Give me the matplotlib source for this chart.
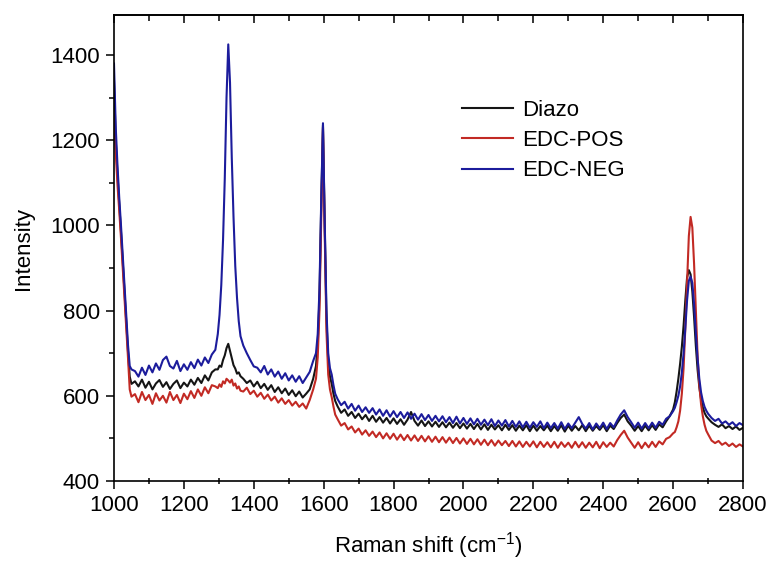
import numpy as np
import matplotlib
matplotlib.use("Agg")
import matplotlib.pyplot as plt

plt.rcParams["font.family"] = ["Liberation Sans", "DejaVu Sans"]
plt.rcParams["mathtext.fontset"] = "custom"
plt.rcParams["mathtext.rm"] = "Liberation Sans"
plt.rcParams["mathtext.default"] = "regular"

# Raman shift sampling (cm^-1): finer steps across the D, G and 2D bands
wavenumber = np.concatenate([
    np.arange(1000, 1051, 5),
    np.arange(1060, 1291, 10),
    np.arange(1297, 1363, 5),
    np.arange(1370, 1571, 10),
    np.arange(1578, 1634, 5),
    np.arange(1640, 2601, 10),
    np.arange(2605, 2701, 5),
    np.arange(2710, 2801, 10),
])

diazo = [
    1340, 1200, 1120, 1050, 985, 915, 845, 775, 705, 645, 628,
    634, 622, 638, 619, 633, 615, 629, 637, 621, 632, 616, 628,
    636, 618, 631, 622, 638, 626, 642, 630, 648, 636, 655, 662,
    662, 671, 668, 684, 695, 712, 722, 705, 688, 672, 664, 652, 655, 646,
    640, 630, 636, 622, 633, 618, 628, 614, 625, 609, 620, 606, 617, 602,
    613, 599, 610, 596, 605, 615, 640,
    670, 720, 830, 1050, 1235, 1000, 780, 680, 645, 628, 605, 588,
    575, 560, 568, 553, 562, 548, 558, 545, 555, 541,
    553, 539, 550, 537, 548, 535, 547, 534, 545, 532,
    544, 562, 541, 530, 542, 529, 540, 528, 539, 527,
    538, 526, 537, 525, 536, 524, 535, 523, 534, 522,
    534, 521, 533, 520, 532, 521, 531, 519, 532, 520,
    531, 518, 530, 519, 531, 517, 530, 518, 529, 519,
    530, 517, 529, 518, 531, 516, 530, 518, 529, 519,
    531, 517, 530, 518, 529, 520, 531, 517, 530, 522,
    536, 548, 556, 540, 530, 518, 529, 517, 530, 519,
    531, 520, 533, 526, 540, 552, 568,
    585, 610, 640, 675, 715, 765, 825, 878, 895, 885,
    845, 785, 718, 662, 620, 592, 573, 560, 552, 547,
    538, 532, 527, 533, 524, 529, 522, 528, 520, 525,
]

edc_pos = [
    1265, 1170, 1095, 1035, 970, 900, 830, 760, 690, 615, 598,
    604, 585, 609, 590, 602, 581, 606, 589, 600, 584, 609, 590,
    602, 583, 605, 592, 611, 595, 615, 600, 620, 606, 625, 622,
    618, 627, 621, 634, 629, 640, 636, 631, 638, 624, 629, 617, 622, 612,
    610, 619, 604, 612, 598, 607, 593, 603, 589, 598, 584, 594, 581, 590,
    577, 586, 574, 582, 570, 590, 615,
    640, 690, 800, 1020, 1230, 980, 750, 650, 615, 597, 575, 556,
    545, 530, 536, 521, 528, 514, 523, 509, 519, 506,
    516, 503, 514, 500, 512, 499, 511, 497, 509, 496,
    508, 495, 507, 494, 506, 493, 505, 492, 504, 491,
    503, 490, 502, 489, 501, 488, 500, 487, 499, 486,
    498, 485, 497, 484, 496, 483, 495, 484, 494, 482,
    494, 481, 493, 480, 492, 481, 493, 479, 492, 480,
    491, 479, 492, 478, 491, 480, 490, 478, 492, 479,
    491, 478, 490, 479, 492, 477, 491, 480, 490, 481,
    496, 508, 518, 502, 490, 478, 491, 477, 490, 479,
    492, 480, 493, 486, 499, 503, 512,
    515, 526, 540, 565, 605, 665, 760, 870, 975, 1020,
    995, 910, 800, 695, 625, 580, 552, 532, 518, 510,
    495, 489, 494, 485, 490, 482, 488, 480, 486, 481,
]

edc_neg = [
    1380, 1230, 1140, 1065, 1000, 930, 860, 790, 720, 670, 662,
    658, 645, 666, 649, 671, 655, 676, 661, 684, 692, 670, 664,
    682, 658, 674, 661, 679, 665, 685, 671, 690, 677, 697, 708,
    745, 790, 860, 965, 1110, 1300, 1425, 1335, 1160, 1020, 905, 830, 775, 740,
    718, 700, 684, 669, 666, 655, 670, 650, 662, 645, 657, 640, 653, 636,
    648, 633, 646, 630, 643, 656, 682,
    700, 745, 850, 1060, 1240, 1010, 800, 700, 665, 650, 625, 605,
    592, 578, 586, 570, 581, 565, 577, 562, 573, 560,
    571, 556, 568, 553, 566, 551, 564, 550, 562, 548,
    561, 546, 558, 544, 557, 543, 555, 541, 553, 540,
    552, 538, 550, 536, 551, 535, 548, 534, 547, 533,
    546, 532, 544, 531, 545, 529, 542, 530, 543, 528,
    541, 527, 540, 526, 539, 525, 538, 527, 540, 524,
    537, 524, 536, 523, 538, 522, 535, 524, 537, 550,
    534, 523, 536, 521, 535, 524, 537, 522, 536, 526,
    542, 556, 566, 550, 538, 525, 537, 523, 536, 524,
    537, 525, 539, 532, 546, 552, 564,
    572, 585, 600, 622, 655, 700, 760, 825, 870, 880,
    865, 815, 748, 688, 640, 608, 588, 574, 565, 558,
    548, 541, 546, 535, 540, 532, 538, 529, 536, 531,
]

series = [
    ("Diazo", diazo, "#151515"),
    ("EDC-POS", edc_pos, "#c22a24"),
    ("EDC-NEG", edc_neg, "#1c1c9c"),
]

W, H = 772, 563
fig = plt.figure(figsize=(W / 100, H / 100), dpi=100)
ax = fig.add_axes([114 / W, (H - 481) / H, 629 / W, 466 / H])

for label, values, color in series:
    ax.plot(wavenumber, values, color=color, lw=1.5, label=label)

ax.set_xlim(1000, 2800)
ax.set_ylim(400, 1494)
ax.set_xticks(np.arange(1000, 2801, 200))
ax.set_xticks(np.arange(1100, 2800, 200), minor=True)
ax.set_yticks(np.arange(400, 1401, 200))
ax.set_yticks(np.arange(500, 1400, 200), minor=True)

for side in ax.spines.values():
    side.set_linewidth(1.2)

ax.tick_params(axis="x", which="major", direction="out", length=6, width=1.1,
               pad=4, labelsize=16)
ax.tick_params(axis="x", which="minor", direction="inout", length=4, width=1.1)
ax.tick_params(axis="y", which="major", direction="out", length=6, width=1.1,
               pad=4, labelsize=16)
ax.tick_params(axis="y", which="minor", direction="out", length=3.5, width=1.1)

# inward ticks along the top edge, no labels
top = ax.secondary_xaxis("top")
top.set_xticks(np.arange(1000, 2801, 200))
top.set_xticks(np.arange(1100, 2800, 200), minor=True)
top.tick_params(which="major", direction="in", length=6, width=1.1, labeltop=False)
top.tick_params(which="minor", direction="in", length=4, width=1.1)
top.spines["top"].set_linewidth(1.2)

ax.set_xlabel("Raman shift (cm$^{-1}$)", fontsize=16, labelpad=10)
ax.set_ylabel("Intensity", fontsize=16, labelpad=12)

ax.legend(loc="upper left", bbox_to_anchor=(0.553, 0.818), frameon=False,
          fontsize=16, handlelength=2.3, handletextpad=0.4, labelspacing=0.42,
          borderpad=0, borderaxespad=0)

fig.savefig("out.png", dpi=100)
